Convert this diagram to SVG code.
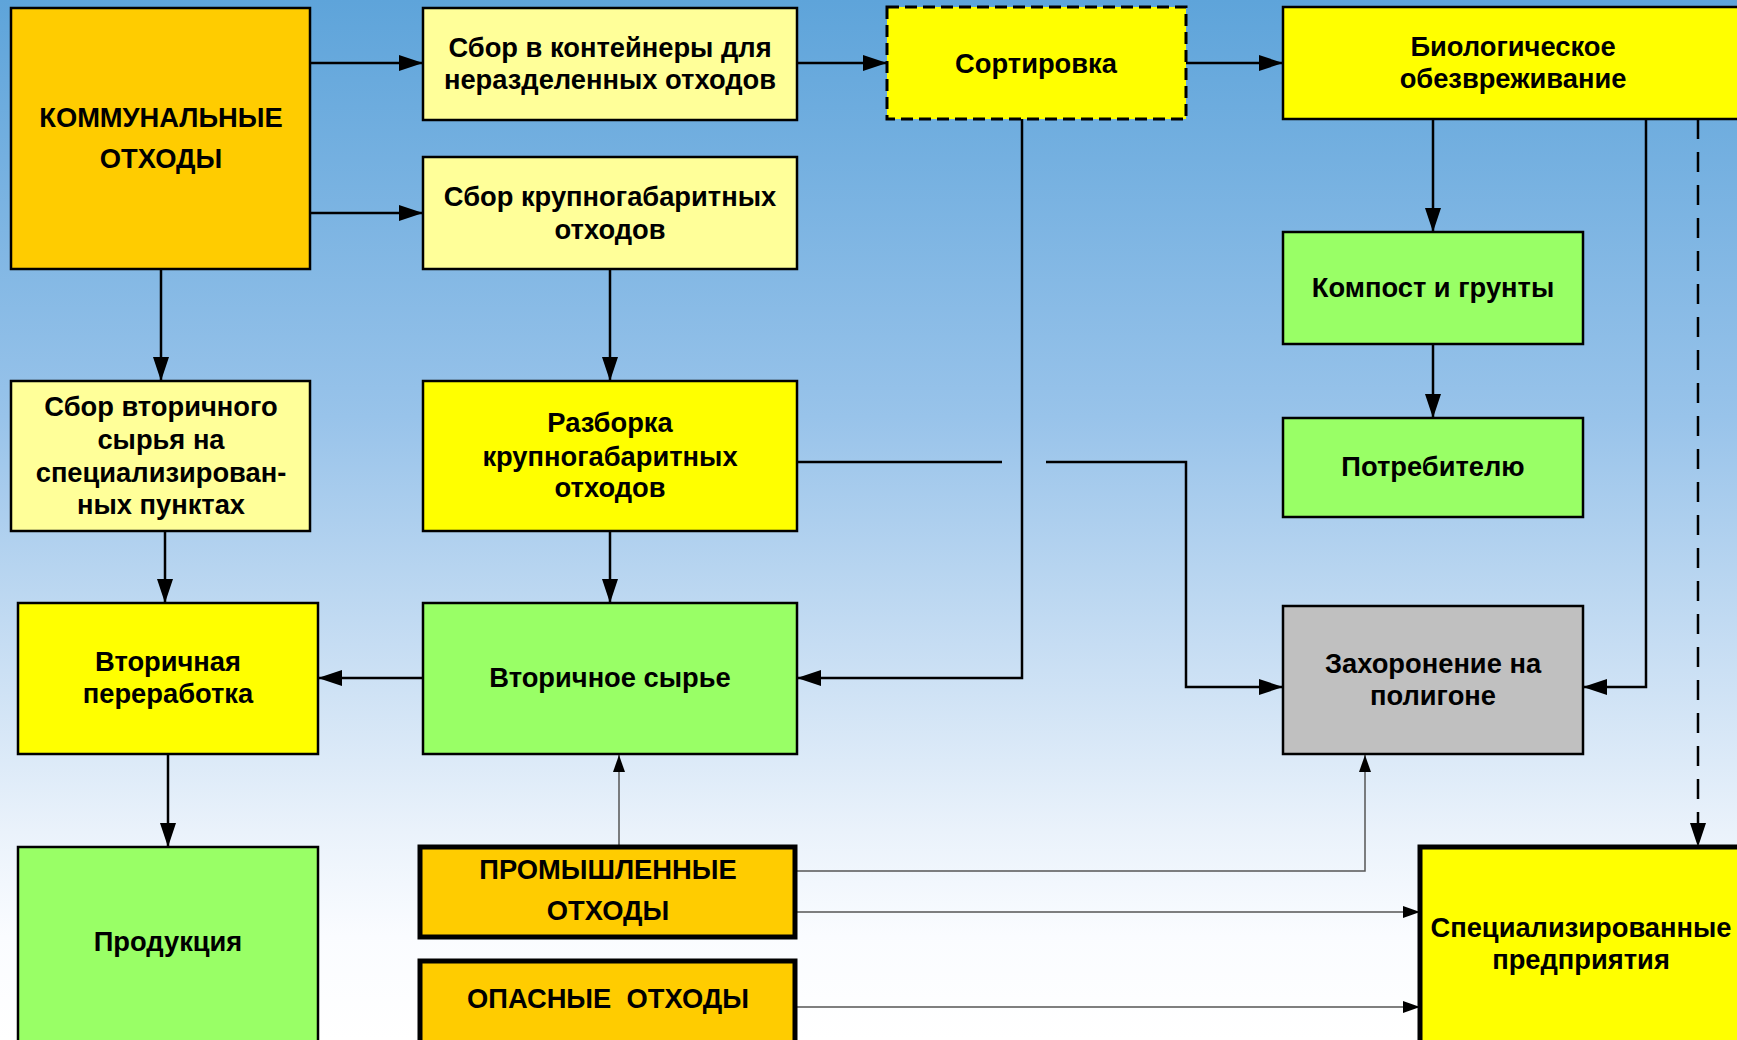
<svg xmlns="http://www.w3.org/2000/svg" width="1737" height="1040" viewBox="0 0 1737 1040">
<defs>
<linearGradient id="bg" x1="0" y1="0" x2="0" y2="1">
<stop offset="0" stop-color="#5ea4da"/>
<stop offset="0.4" stop-color="#98c3ea"/>
<stop offset="0.62" stop-color="#c6ddf3"/>
<stop offset="0.8" stop-color="#eaf2fb"/>
<stop offset="0.9" stop-color="#fafcff"/>
<stop offset="1" stop-color="#ffffff"/>
</linearGradient>
<marker id="ah" viewBox="0 0 24 16" refX="24" refY="8" markerWidth="24" markerHeight="16" markerUnits="userSpaceOnUse" orient="auto">
<path d="M0,0 L24,8 L0,16 z" fill="#000"/>
</marker>
<marker id="ahs" viewBox="0 0 17 12" refX="17" refY="6" markerWidth="17" markerHeight="12" markerUnits="userSpaceOnUse" orient="auto">
<path d="M0,0 L17,6 L0,12 z" fill="#000"/>
</marker>
</defs>
<style>
.n{stroke:#000;stroke-width:2.5}
.tk{stroke-width:5}
.dash{stroke-dasharray:12 6;stroke-width:3}
.or{fill:#ffcc00}
.ly{fill:#ffff99}
.ye{fill:#ffff00}
.gr{fill:#99ff66}
.gy{fill:#c0c0c0}
text{font-family:"Liberation Sans",Arial,sans-serif;font-weight:bold;font-size:27.3px;fill:#000;text-anchor:middle}
.c{fill:none;stroke:#000;stroke-width:2.5;marker-end:url(#ah)}
.cn{fill:none;stroke:#000;stroke-width:2.5}
.t{fill:none;stroke:#555;stroke-width:1.5;marker-end:url(#ahs)}
.cd{stroke-dasharray:20 13}
</style>
<rect x="0" y="0" width="1737" height="1040" fill="url(#bg)"/>

<g id="connectors">
<line class="c" x1="310" y1="63" x2="423" y2="63"/>
<line class="c" x1="310" y1="213" x2="423" y2="213"/>
<line class="c" x1="797" y1="63" x2="887" y2="63"/>
<line class="c" x1="1186" y1="63" x2="1283" y2="63"/>
<line class="c" x1="161" y1="269" x2="161" y2="381"/>
<line class="c" x1="610" y1="269" x2="610" y2="381"/>
<line class="c" x1="1433" y1="119" x2="1433" y2="232"/>
<line class="c" x1="1433" y1="344" x2="1433" y2="418"/>
<line class="c" x1="165" y1="531" x2="165" y2="603"/>
<line class="c" x1="610" y1="531" x2="610" y2="603"/>
<line class="c" x1="423" y1="678" x2="318" y2="678"/>
<polyline class="c" points="1022,119 1022,678 797,678"/>
<path class="cn" d="M797,462 L1002,462"/>
<path class="c" d="M1046,462 L1186,462 L1186,687 L1283,687"/>
<polyline class="c" points="1646,119 1646,687 1583,687"/>
<line class="c cd" x1="1698" y1="119" x2="1698" y2="847"/>
<line class="c" x1="168" y1="754" x2="168" y2="847"/>
<line class="t" x1="619" y1="847" x2="619" y2="755"/>
<polyline class="t" points="795,871 1365,871 1365,755"/>
<line class="t" x1="795" y1="912" x2="1420" y2="912"/>
<line class="t" x1="795" y1="1007" x2="1420" y2="1007"/>
</g>

<g id="kommunalnye">
<rect class="n or" x="11" y="8" width="299" height="261"/>
<text x="161" y="127">КОММУНАЛЬНЫЕ</text>
<text x="161" y="168">ОТХОДЫ</text>
</g>
<g id="sbor-kontejnery">
<rect class="n ly" x="423" y="8" width="374" height="112"/>
<text x="610" y="57">Сбор в контейнеры для</text>
<text x="610" y="89">неразделенных отходов</text>
</g>
<g id="sbor-krupnogabarit">
<rect class="n ly" x="423" y="157" width="374" height="112"/>
<text x="610" y="206">Сбор крупногабаритных</text>
<text x="610" y="239">отходов</text>
</g>
<g id="sortirovka">
<rect class="n ye dash" x="887" y="7" width="299" height="112"/>
<text x="1036" y="73">Сортировка</text>
</g>
<g id="bio">
<rect class="n ye" x="1283" y="7" width="462" height="112"/>
<text x="1513" y="56">Биологическое</text>
<text x="1513" y="88">обезвреживание</text>
</g>
<g id="sbor-vtorichnogo">
<rect class="n ly" x="11" y="381" width="299" height="150"/>
<text x="161" y="416">Сбор вторичного</text>
<text x="161" y="449">сырья на</text>
<text x="161" y="482">специализирован-</text>
<text x="161" y="514">ных пунктах</text>
</g>
<g id="razborka">
<rect class="n ye" x="423" y="381" width="374" height="150"/>
<text x="610" y="432">Разборка</text>
<text x="610" y="466">крупногабаритных</text>
<text x="610" y="497">отходов</text>
</g>
<g id="kompost">
<rect class="n gr" x="1283" y="232" width="300" height="112"/>
<text x="1433" y="297">Компост и грунты</text>
</g>
<g id="potrebitelyu">
<rect class="n gr" x="1283" y="418" width="300" height="99"/>
<text x="1433" y="476">Потребителю</text>
</g>
<g id="vtorichnaya-pererabotka">
<rect class="n ye" x="18" y="603" width="300" height="151"/>
<text x="168" y="671">Вторичная</text>
<text x="168" y="703">переработка</text>
</g>
<g id="vtorichnoe-syre">
<rect class="n gr" x="423" y="603" width="374" height="151"/>
<text x="610" y="687">Вторичное сырье</text>
</g>
<g id="zahoronenie">
<rect class="n gy" x="1283" y="606" width="300" height="148"/>
<text x="1433" y="673">Захоронение на</text>
<text x="1433" y="705">полигоне</text>
</g>
<g id="produkciya">
<rect class="n gr" x="18" y="847" width="300" height="200"/>
<text x="168" y="951">Продукция</text>
</g>
<g id="promyshlennye">
<rect class="n or tk" x="420" y="847" width="375" height="90"/>
<text x="608" y="879">ПРОМЫШЛЕННЫЕ</text>
<text x="608" y="920">ОТХОДЫ</text>
</g>
<g id="opasnye">
<rect class="n or tk" x="420" y="961" width="375" height="90"/>
<text x="608" y="1008" xml:space="preserve">ОПАСНЫЕ  ОТХОДЫ</text>
</g>
<g id="specializirovannye">
<rect class="n ye tk" x="1420" y="847" width="330" height="200"/>
<text x="1581" y="937">Специализированные</text>
<text x="1581" y="969">предприятия</text>
</g>
</svg>
